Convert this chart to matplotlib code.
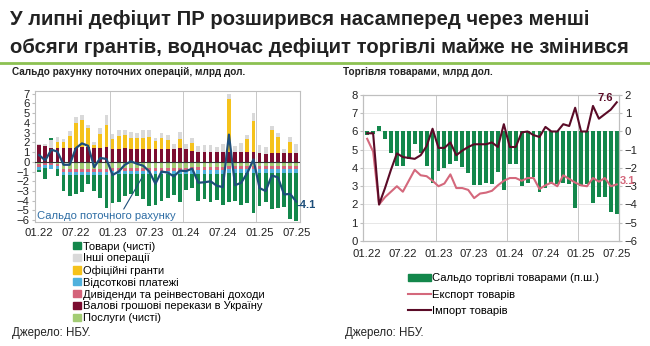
import numpy as np
import matplotlib
matplotlib.use("Agg")
import matplotlib.pyplot as plt
from matplotlib.patches import Patch
from matplotlib.lines import Line2D

plt.rcParams["font.family"] = ["Liberation Sans", "DejaVu Sans"]

# ---- data -----------------------------------------------------------------
months = ["01.22", "07.22", "01.23", "07.23", "01.24", "07.24", "01.25", "07.25"]
n_months = 43

# left panel: current account components (bn USD)
remit = [1.7, 1.6, 1.4, 1.4, 1.4, 1.4, 1.4, 1.5, 1.5, 1.4, 1.4, 1.5,
         1.3, 1.3, 1.4, 1.3, 1.3, 1.3, 1.3, 1.3, 1.3, 1.3, 1.3, 1.4,
         1.3, 1.1, 1.0, 1.0, 1.0, 1.0, 1.0, 1.0, 1.0, 1.0, 1.0, 1.0,
         0.9, 0.8, 0.9, 0.9, 0.9, 0.9, 0.9]
grants = [0.0, 0.0, 0.0, 0.6, 0.6, 1.3, 2.6, 2.8, 2.0, 0.3, 1.5, 2.3,
          1.1, 1.4, 1.4, 1.2, 1.2, 1.2, 1.3, 0.8, 1.2, 0.9, 0.0, 0.9,
          0.0, 0.8, 0.0, 0.0, 0.0, 0.0, 0.0, 5.5, 0.0, 0.0, 1.3, 3.2,
          0.0, 0.0, 2.4, 1.7, 0.0, 1.1, 0.0]
other = [0.1, 0.2, 0.8, 0.6, 0.4, 0.5, 0.6, 0.5, 0.3, 0.3, 0.6, 1.0,
         0.5, 0.6, 0.5, 0.6, 0.5, 0.8, 0.7, 0.4, 0.5, 0.6, 0.5, 0.8,
         0.5, 0.6, 0.6, 0.7, 0.7, 0.5, 0.8, 0.5, 0.6, 0.9, 0.5, 0.8,
         0.8, 0.7, 0.4, 0.4, 0.4, 0.6, 0.9]
services = [-0.2, -0.1, -0.1, -0.2, -0.7, -0.7, -0.7, -0.7, -0.7, -0.7, -0.7, -0.7,
            -0.6, -0.6, -0.6, -0.6, -0.6, -0.6, -0.6, -0.6, -0.6, -0.6, -0.6, -0.6,
            -0.6, -0.5, -0.5, -0.5, -0.5, -0.5, -0.5, -0.45, -0.45, -0.45, -0.45, -0.45,
            -0.45, -0.45, -0.45, -0.45, -0.45, -0.45, -0.45]
dividends = [-0.3, -0.2, -0.2, -0.2, -0.3, -0.3, -0.3, -0.3, -0.3, -0.3, -0.3, -0.3,
             -0.3, -0.3, -0.3, -0.3, -0.3, -0.3, -0.3, -0.3, -0.3, -0.3, -0.3, -0.3,
             -0.3, -0.3, -0.3, -0.3, -0.3, -0.3, -0.3, -0.3, -0.3, -0.3, -0.3, -0.3,
             -0.3, -0.3, -0.3, -0.3, -0.3, -0.3, -0.3]
interest = [-0.3, -0.3, -0.4, -0.3, -0.35, -0.35, -0.35, -0.35, -0.35, -0.35, -0.35, -0.35,
            -0.35, -0.35, -0.35, -0.35, -0.35, -0.35, -0.35, -0.35, -0.35, -0.35, -0.35, -0.35,
            -0.35, -0.4, -0.4, -0.4, -0.4, -0.4, -0.4, -0.4, -0.4, -0.4, -0.4, -0.4,
            -0.4, -0.4, -0.4, -0.4, -0.4, -0.4, -0.4]
goods = [-0.2, -1.2, 0.3, -0.8, -1.6, -2.2, -2.0, -1.7, -0.9, -1.6, -2.4, -3.4,
         -3.0, -2.9, -2.3, -2.1, -2.3, -2.6, -3.3, -3.2, -2.8, -2.5, -2.2, -2.9,
         -1.6, -1.5, -2.8, -2.6, -2.9, -2.7, -3.2, -3.0, -2.9, -3.3, -3.1, -4.1,
         -3.4, -3.0, -3.7, -3.6, -3.5, -4.7, -4.9]
ca_balance = [0.7, 0.15, 1.25, 1.05, -0.3, -0.3, 1.4, 1.9, 1.65, -0.55, 0.4, 0.3,
              -1.35, -1.0, -0.3, 0.05, -0.2, -0.4, -1.0, -2.25, -1.0, -1.1, -1.5, -0.9,
              -0.95, -0.7, -2.15, -2.1, -2.0, -2.45, -2.6, 2.8, -2.4, -2.15, -1.15, 0.25,
              -2.7, -3.0, -1.4, -1.6, -3.35, -3.3, -4.1]

# right panel: goods trade (bn USD)
trade_balance = [-0.2, -0.15, 0.3, -0.4, -1.2, -1.9, -1.9, -1.5, -0.7, -1.2, -1.9, -2.85,
                 -2.15, -2.0, -1.8, -1.6, -1.95, -2.3, -2.95, -2.95, -2.8, -2.9, -2.2, -3.2,
                 -1.8, -1.8, -3.0, -2.8, -2.5, -3.3, -3.1, -2.9, -2.9, -2.8, -2.9, -4.2,
                 -3.0, -2.9, -3.9, -3.6, -3.6, -4.4, -4.5]
exports = [5.6, 4.9, 2.0, 2.4, 2.7, 3.0, 2.7, 3.3, 3.9, 3.6, 3.55, 3.3,
           3.0, 3.15, 3.65, 2.9, 2.9, 2.8, 2.35, 2.6, 2.65, 2.75, 3.05, 3.3,
           3.45, 3.45, 3.3, 3.45, 3.45, 2.85, 3.05, 3.2, 3.0, 3.6, 3.4, 3.2,
           3.05, 3.0, 3.45, 3.25, 3.45, 3.0, 3.1]
imports = [5.9, 5.9, 2.0, 2.9, 3.9, 4.8, 4.6, 4.55, 4.5, 4.7, 5.2, 6.15,
           5.1, 5.1, 5.4, 4.7, 4.95, 5.15, 5.3, 5.3, 5.3, 5.4, 5.15, 6.4,
           5.15, 5.15, 5.95, 6.0, 5.8, 5.7, 6.25, 6.0, 6.0, 6.4, 6.3, 7.3,
           6.0, 6.0, 7.4, 6.7, 6.95, 7.2, 7.6]

left_labels = ["Товари (чисті)", "Інші операції", "Офіційні гранти", "Відсоткові платежі",
               "Дивіденди та реінвестовані доходи", "Валові грошові перекази в Україну",
               "Послуги (чисті)"]
right_labels = ["Сальдо торгівлі товарами (п.ш.)", "Експорт товарів", "Імпорт товарів"]

# ---- colours ----------------------------------------------------------------
c_goods = "#13874b"
c_other = "#d9d9d9"
c_grants = "#f5c21b"
c_interest = "#4fb1dd"
c_div = "#d4637a"
c_remit = "#7b0d30"
c_serv = "#a3cc74"
c_ca = "#1d4e7a"
c_exp = "#d4687c"
c_imp = "#5a0b27"
grid_c = "#c8c8c8"

x = np.arange(n_months)
tick_pos = np.arange(0, n_months, 6)

fig = plt.figure(figsize=(6.5, 3.46), dpi=100)

# ---- header -----------------------------------------------------------------
fig.text(0.016, 0.945, "У липні дефіцит ПР розширився насамперед через менші",
         fontsize=14.6, fontweight="bold", color="#222222", ha="left", va="center")
fig.text(0.016, 0.862, "обсяги грантів, водночас дефіцит торгівлі майже не змінився",
         fontsize=14.6, fontweight="bold", color="#222222", ha="left", va="center")
fig.add_artist(Line2D([0, 1], [0.818, 0.818], color="#8cc152", lw=2))
fig.text(0.018, 0.793, "Сальдо рахунку поточних операцій, млрд дол.",
         fontsize=7.2, fontweight="bold", color="#222222", ha="left", va="center")
fig.text(0.528, 0.793, "Торгівля товарами, млрд дол.",
         fontsize=7.2, fontweight="bold", color="#222222", ha="left", va="center")


def style_axes(ax, xpad=6):
    for s in ax.spines.values():
        s.set_color("#bfbfbf")
        s.set_linewidth(0.8)
    ax.tick_params(axis="both", labelsize=8.1, colors="#222222", length=2.5,
                   color="#bfbfbf", pad=1.5)
    ax.tick_params(axis="x", length=0, pad=xpad)
    for g in (11.5, 23.5, 35.5):
        ax.axvline(g, color=grid_c, lw=0.7, zorder=0)


# ---- left panel -------------------------------------------------------------
ax1 = fig.add_axes([0.054, 0.358, 0.4075, 0.378])
w = 0.6
remit_a = np.array(remit)
grants_a = np.array(grants)
other_a = np.array(other)
goods_a = np.array(goods)
goods_pos = np.clip(goods_a, 0, None)
goods_neg = np.clip(goods_a, None, 0)

ax1.bar(x, remit_a, w, color=c_remit, zorder=2)
ax1.bar(x, grants_a, w, bottom=remit_a, color=c_grants, zorder=2)
ax1.bar(x, other_a, w, bottom=remit_a + grants_a, color=c_other, zorder=2)
ax1.bar(x, goods_pos, w, bottom=remit_a + grants_a + other_a, color=c_goods, zorder=2)

neg_b = np.zeros(n_months)
for vals, col in ((services, c_serv), (dividends, c_div), (interest, c_interest),
                  (goods_neg, c_goods)):
    ax1.bar(x, vals, w, bottom=neg_b, color=col, zorder=2)
    neg_b = neg_b + np.array(vals)

ax1.axhline(0, color="#333333", lw=0.8, zorder=3)
ax1.plot(x, ca_balance, color=c_ca, lw=1.6, zorder=4)
ax1.text(x[-1] + 0.1, ca_balance[-1] - 0.3, f"{ca_balance[-1]:.1f}", color=c_ca,
         fontsize=8, fontweight="bold", ha="left", va="center", clip_on=False)
ax1.annotate("", xy=(17.1, -1.3), xytext=(13.6, -5.1),
             arrowprops=dict(arrowstyle="-", color=c_ca, lw=0.8))
ax1.text(-0.3, -5.6, "Сальдо поточного рахунку", color="#2f6ea5", fontsize=8.1,
         ha="left", va="center", zorder=5)

ax1.set_xlim(-0.65, 42.6)
ax1.set_ylim(-6.2, 7.25)
ax1.set_yticks(np.arange(-6, 8, 1))
ax1.set_xticks(tick_pos)
ax1.set_xticklabels(months)
style_axes(ax1, xpad=4)

handles = [Patch(color=c) for c in (c_goods, c_other, c_grants, c_interest, c_div,
                                    c_remit, c_serv)]
fig.legend(handles, left_labels, loc="upper left", bbox_to_anchor=(0.113, 0.302),
           frameon=False, fontsize=8.0, handlelength=0.65, handleheight=0.65,
           handletextpad=0.25, labelspacing=0.17, borderaxespad=0, borderpad=0)

# ---- right panel ------------------------------------------------------------
ax2 = fig.add_axes([0.5585, 0.3035, 0.394, 0.422])
ax3 = ax2.twinx()
ax3.bar(x, trade_balance, 0.65, color=c_goods, zorder=2)
ax3.set_ylim(-6, 2)
ax3.set_yticks(np.arange(-6, 3, 1))
ax2.set_ylim(0, 8)
ax2.set_yticks(np.arange(0, 9, 1))
ax2.set_zorder(ax3.get_zorder() + 1)
ax2.patch.set_visible(False)
for v in range(1, 8):
    ax3.axhline(v - 6, color="#e3e3e3", lw=0.6, zorder=0)
ax2.plot(x, exports, color=c_exp, lw=1.5, zorder=3)
ax2.plot(x, imports, color=c_imp, lw=1.5, zorder=4)
ax2.text(40.0, 7.85, f"{imports[-1]:.1f}", color=c_imp, fontsize=8,
         fontweight="bold", ha="center", va="center")
ax2.text(42.5, 3.3, f"{exports[-1]:.1f}", color=c_exp, fontsize=8,
         fontweight="bold", ha="left", va="center", clip_on=False)
ax2.set_xlim(-0.7, 42.4)
ax3.set_xlim(-0.7, 42.4)
ax2.set_xticks(tick_pos)
ax2.set_xticklabels(months)
style_axes(ax2)
style_axes(ax3)

r_handles = [Patch(color=c_goods),
             Line2D([], [], color=c_exp, lw=1.5),
             Line2D([], [], color=c_imp, lw=1.5)]
fig.legend(r_handles, right_labels, loc="upper left", bbox_to_anchor=(0.627, 0.21),
           frameon=False, fontsize=8.1, handlelength=2.1, handleheight=0.5,
           handletextpad=0.1, labelspacing=0.55, borderaxespad=0, borderpad=0)

# ---- footers ----------------------------------------------------------------
fig.text(0.018, 0.038, "Джерело: НБУ.", fontsize=8.3, color="#222222",
         ha="left", va="center")
fig.text(0.531, 0.038, "Джерело: НБУ.", fontsize=8.3, color="#222222",
         ha="left", va="center")

fig.savefig("out.png", dpi=100)
